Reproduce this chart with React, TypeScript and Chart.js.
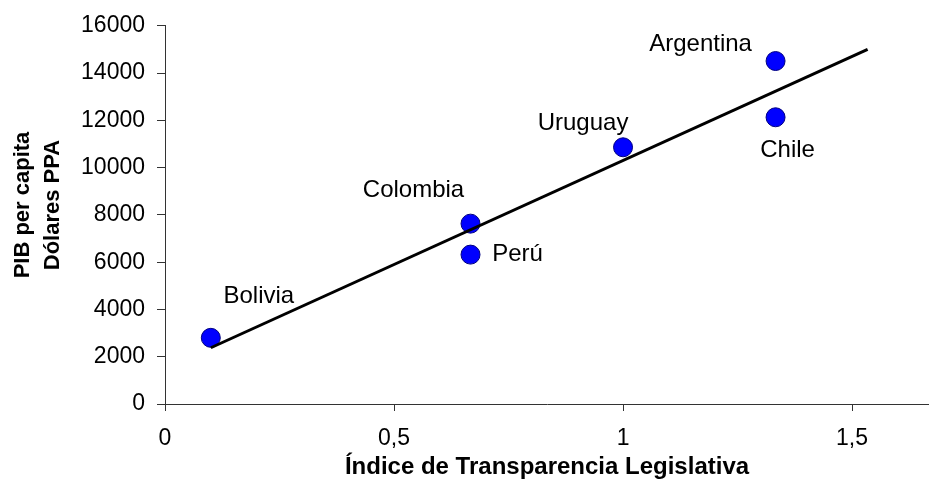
import React, { useEffect, useRef } from "react";
import { Chart, registerables } from "chart.js";

Chart.register(...registerables);

// ---- Data ----
const countries = ["Bolivia", "Colombia", "Perú", "Uruguay", "Argentina", "Chile"];
const transparencyIndex = [0.1, 0.667, 0.667, 1.0, 1.333, 1.333];
const gdpPerCapita = [2800, 7630, 6320, 10860, 14510, 12130];
const trendX = [0.1, 1.534];
const trendY = [2380, 15000];
const xTicks = [0, 0.5, 1, 1.5];
const yTicks = [0, 2000, 4000, 6000, 8000, 10000, 12000, 14000, 16000];
const xAxisTitle = "Índice de Transparencia Legislativa";
const yAxisTitle = ["PIB per capita", "Dólares PPA"];

// ---- Styles ----
const FONT = "'Liberation Sans', Arial, Helvetica, sans-serif";
const AXIS_COLOR = "#333333";
const labelOffsets: Record<string, [number, number]> = {
  Bolivia: [48, -41],
  Colombia: [-57, -33],
  "Perú": [47, 0],
  Uruguay: [-40, -24],
  Argentina: [-75, -17],
  Chile: [12, 33],
};

const pointLabelsPlugin = {
  id: "pointLabels",
  afterDatasetsDraw(chart: any) {
    const meta = chart.getDatasetMeta(1);
    const ctx = chart.ctx;
    ctx.save();
    ctx.font = `24px ${FONT}`;
    ctx.fillStyle = "#000";
    ctx.textAlign = "center";
    ctx.textBaseline = "middle";
    meta.data.forEach((el: any, i: number) => {
      const name = countries[i];
      const [dx, dy] = labelOffsets[name] || [0, -20];
      ctx.fillText(name, el.x + dx, el.y + dy);
    });
    ctx.restore();
  },
};

const yTitlePlugin = {
  id: "yTitle",
  afterDraw(chart: any) {
    const ctx = chart.ctx;
    ctx.save();
    ctx.font = `bold 22px ${FONT}`;
    ctx.fillStyle = "#000";
    ctx.textAlign = "center";
    ctx.textBaseline = "middle";
    const cy = 205;
    const xs = [23, 53];
    yAxisTitle.forEach((line, i) => {
      ctx.save();
      ctx.translate(xs[i], cy);
      ctx.rotate(-Math.PI / 2);
      ctx.fillText(line, 0, 0);
      ctx.restore();
    });
    ctx.restore();
  },
};

export default function App() {
  const canvasRef = useRef<HTMLCanvasElement | null>(null);

  useEffect(() => {
    if (!canvasRef.current) return;
    const chart = new Chart(canvasRef.current, {
      type: "scatter",
      data: {
        datasets: [
          {
            type: "line",
            label: "Tendencia",
            data: trendX.map((x, i) => ({ x, y: trendY[i] })),
            borderColor: "#000",
            borderWidth: 3,
            pointRadius: 0,
            fill: false,
            order: 0,
          } as any,
          {
            label: "PIB",
            data: transparencyIndex.map((x, i) => ({ x, y: gdpPerCapita[i] })),
            backgroundColor: "#0000ff",
            borderColor: "#000080",
            borderWidth: 1,
            pointRadius: 9.5,
            order: 1,
          },
        ],
      },
      options: {
        animation: false,
        responsive: true,
        maintainAspectRatio: false,
        layout: { autoPadding: false, padding: { top: 25, right: 0, left: 0, bottom: 0 } },
        plugins: {
          legend: { display: false },
          tooltip: { enabled: false },
        },
        scales: {
          x: {
            type: "linear",
            min: 0,
            max: 1.668,
            afterBuildTicks: (scale: any) => {
              scale.ticks = xTicks.map((v) => ({ value: v }));
            },
            afterFit: (scale: any) => {
              scale.height = 75;
              scale.paddingLeft = 0;
              scale.paddingRight = 0;
            },
            grid: {
              display: true,
              drawOnChartArea: false,
              drawTicks: true,
              tickLength: 7,
              color: AXIS_COLOR,
            },
            border: { display: true, color: AXIS_COLOR, width: 1 },
            ticks: {
              color: "#000",
              font: { family: FONT, size: 23 },
              padding: 14,
              maxRotation: 0,
              callback: (v: any) => String(v).replace(".", ","),
            },
            title: {
              display: true,
              text: xAxisTitle,
              color: "#000",
              font: { family: FONT, size: 24, weight: "bold", lineHeight: 1.0 },
              padding: { top: 0, bottom: 0 },
            },
          },
          y: {
            type: "linear",
            min: 0,
            max: 16000,
            afterBuildTicks: (scale: any) => {
              scale.ticks = yTicks.map((v) => ({ value: v }));
            },
            afterFit: (scale: any) => {
              scale.width = 165;
            },
            grid: {
              display: true,
              drawOnChartArea: false,
              drawTicks: true,
              tickLength: 8,
              color: AXIS_COLOR,
            },
            border: { display: true, color: AXIS_COLOR, width: 1 },
            ticks: {
              color: "#000",
              font: { family: FONT, size: 23 },
              padding: 12,
              callback: (v: any) => String(v),
            },
            title: { display: false },
          },
        },
      },
      plugins: [pointLabelsPlugin, yTitlePlugin],
    });
    return () => chart.destroy();
  }, []);

  return (
    <div style={{ position: "fixed", left: 0, top: 0, width: 929, height: 479, background: "#fff" }}>
      <canvas ref={canvasRef} />
    </div>
  );
}
